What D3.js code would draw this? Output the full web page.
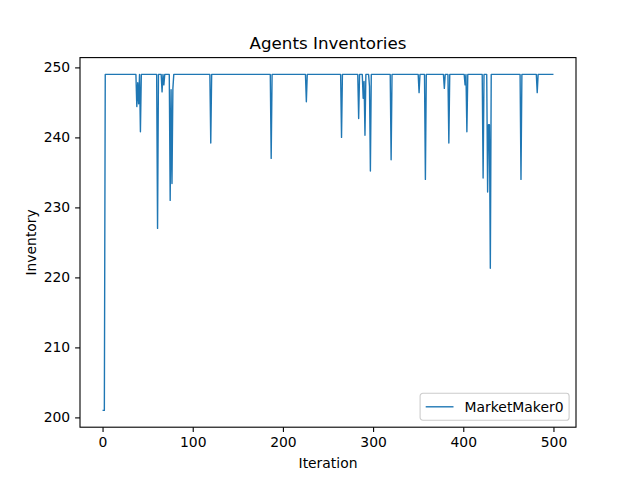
<!DOCTYPE html>
<html>
<head>
<meta charset="utf-8">
<script src="https://cdn.jsdelivr.net/npm/d3@7"></script>
<style>
  body { margin: 0; background: #fff; }
  text { font-family: "DejaVu Sans", sans-serif; fill: #000; }
</style>
</head>
<body>
<script>
var width = 640;
var height = 480;

// the series sits at baseValue except at these iterations
var iterationCount = 501;
var baseValue = 249;
var dipIterations = [0, 1, 2, 38, 39, 40, 42, 61, 66, 68, 75, 76, 77, 78, 120, 187, 226, 265,
  284, 289, 290, 291, 296, 297, 320, 351, 358, 379, 384, 402, 404, 422, 427, 428, 429, 430, 464, 482];
var dipValues = [201, 201, 201, 244.4, 247.8, 244.8, 240.8, 227, 246.5, 247.5, 231, 246.8, 233.4, 247, 239.2, 237, 245.1, 240,
  242.7, 245.6, 248, 240.3, 247.3, 235.2, 236.8, 246.4, 234, 247, 239.2, 247.5, 240.8, 234.2, 232.2, 241.8, 241.8, 221.3, 234, 246.4];
var xTicks = [0, 100, 200, 300, 400, 500];
var yTicks = [200, 210, 220, 230, 240, 250];
var seriesName = "MarketMaker0";

// build the series
var inventory = [];
for (var i = 0; i < iterationCount; i++) inventory.push({ x: i, y: baseValue });
dipIterations.forEach(function (it, k) { inventory[it].y = dipValues[k]; });

var svg = d3.select("body").append("svg")
  .attr("width", width)
  .attr("height", height);

// matplotlib default subplot box
var plotMargins = { top: 57.6, bottom: 52.8, left: 80, right: 64 };
var plotWidth = width - plotMargins.left - plotMargins.right;
var plotHeight = height - plotMargins.top - plotMargins.bottom;

var plotGroup = svg.append("g")
  .attr("transform", "translate(" + plotMargins.left + "," + plotMargins.top + ")");

// 5% padding like matplotlib autoscale
var xExt = d3.extent(inventory, function (d) { return d.x; });
var yExt = d3.extent(inventory, function (d) { return d.y; });
var xPad = (xExt[1] - xExt[0]) * 0.05;
var yPad = (yExt[1] - yExt[0]) * 0.05;

var xScale = d3.scaleLinear().domain([xExt[0] - xPad, xExt[1] + xPad]).range([0, plotWidth]);
var yScale = d3.scaleLinear().domain([yExt[0] - yPad, yExt[1] + yPad]).range([plotHeight, 0]);

var xAxis = d3.axisBottom(xScale).tickValues(xTicks).tickSize(4.9).tickPadding(4.9).tickFormat(d3.format("d"));
var yAxis = d3.axisLeft(yScale).tickValues(yTicks).tickSize(4.9).tickPadding(4.9).tickFormat(d3.format("d"));

var xAxisGroup = plotGroup.append("g")
  .attr("transform", "translate(0," + plotHeight + ")")
  .call(xAxis);
var yAxisGroup = plotGroup.append("g").call(yAxis);

[xAxisGroup, yAxisGroup].forEach(function (g) {
  g.select(".domain").remove();
  g.selectAll("line").attr("stroke", "#000").attr("stroke-width", 1.1);
  g.selectAll("text").style("font-size", "13.9px").attr("fill", "#000");
});

// the line
var line = d3.line()
  .x(function (d) { return xScale(d.x); })
  .y(function (d) { return yScale(d.y); });

plotGroup.append("path")
  .datum(inventory)
  .attr("fill", "none")
  .attr("stroke", "#1f77b4")
  .attr("stroke-width", 1.39)
  .attr("stroke-linejoin", "round")
  .attr("d", line);

// frame
plotGroup.append("rect")
  .attr("width", plotWidth)
  .attr("height", plotHeight)
  .attr("fill", "none")
  .attr("stroke", "#000")
  .attr("stroke-width", 1.1);

// title and labels
svg.append("text")
  .attr("x", plotMargins.left + plotWidth / 2)
  .attr("y", plotMargins.top - 8.3)
  .attr("text-anchor", "middle")
  .style("font-size", "16.7px")
  .text("Agents Inventories");

svg.append("text")
  .attr("x", plotMargins.left + plotWidth / 2)
  .attr("y", 468)
  .attr("text-anchor", "middle")
  .style("font-size", "13.9px")
  .text("Iteration");

svg.append("text")
  .attr("transform", "translate(36," + (plotMargins.top + plotHeight / 2) + ") rotate(-90)")
  .attr("text-anchor", "middle")
  .style("font-size", "13.9px")
  .text("Inventory");

// legend
var legendW = 149, legendH = 27;
var legend = plotGroup.append("g")
  .attr("transform", "translate(" + (plotWidth - 6.9 - legendW) + "," + (plotHeight - 6.9 - legendH) + ")");
legend.append("rect")
  .attr("width", legendW)
  .attr("height", legendH)
  .attr("rx", 2.8)
  .attr("fill", "#fff")
  .attr("fill-opacity", 0.8)
  .attr("stroke", "#ccc")
  .attr("stroke-width", 1.1);
legend.append("line")
  .attr("x1", 5.6).attr("x2", 33.4)
  .attr("y1", legendH / 2).attr("y2", legendH / 2)
  .attr("stroke", "#1f77b4")
  .attr("stroke-width", 1.39);
legend.append("text")
  .attr("x", 44.5)
  .attr("y", legendH / 2 + 5)
  .style("font-size", "13.9px")
  .text(seriesName);
</script>
</body>
</html>
